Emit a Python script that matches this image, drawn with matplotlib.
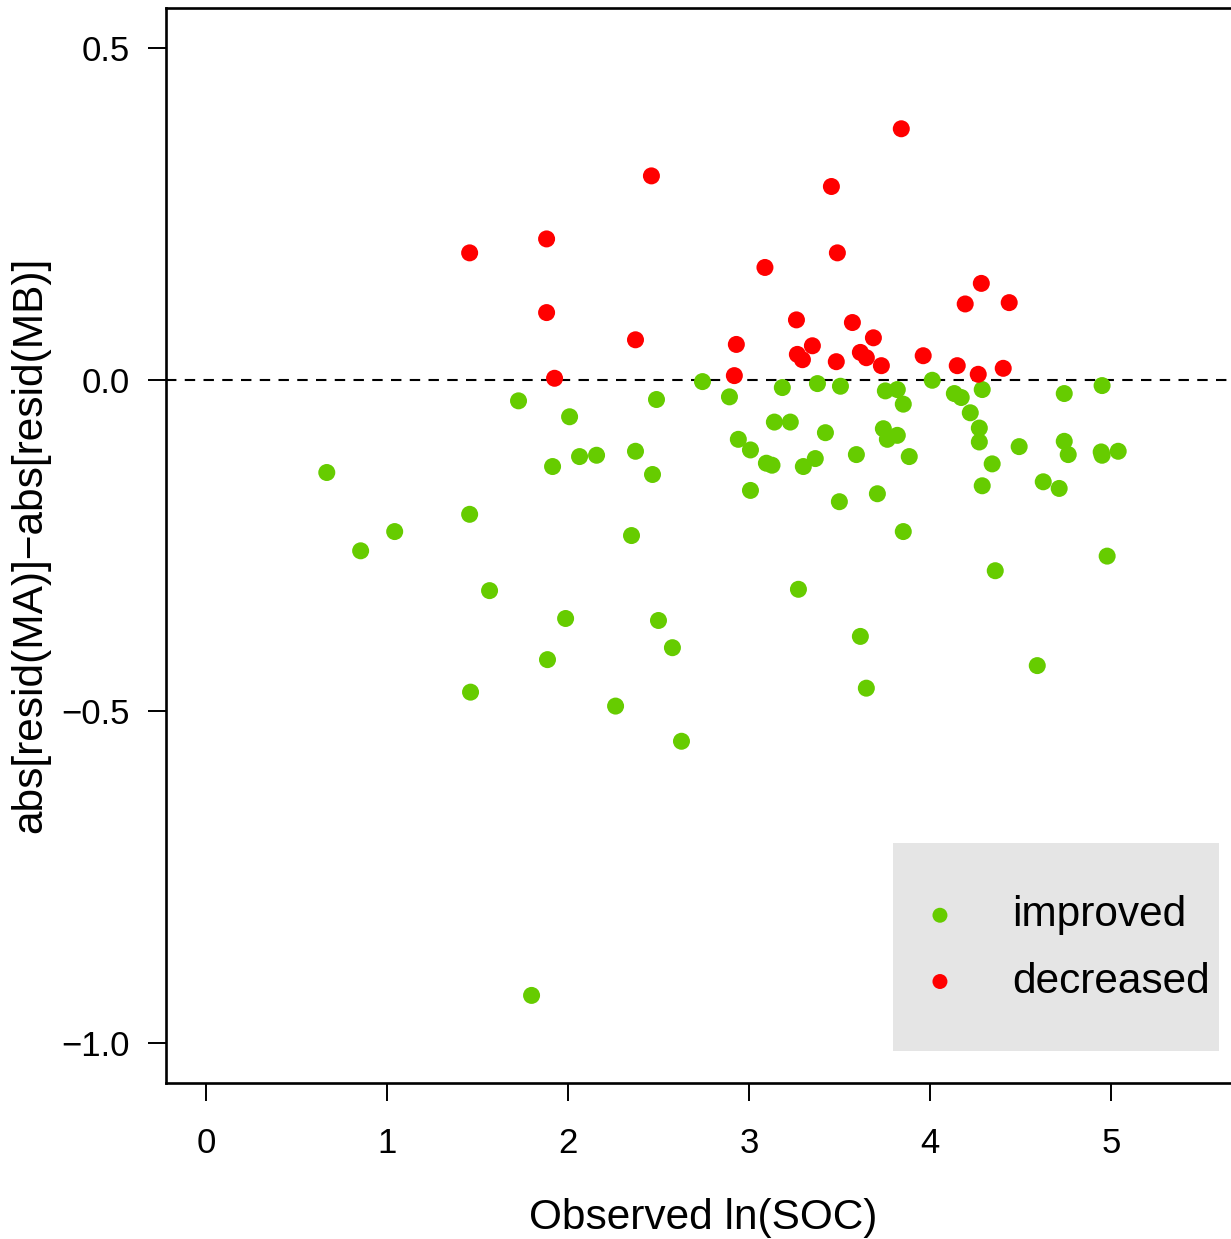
import matplotlib
matplotlib.use("Agg")
import matplotlib.pyplot as plt
from matplotlib.patches import Rectangle

plt.rcParams['font.family'] = ['Liberation Sans', 'DejaVu Sans']

# Observed ln(SOC) and residual-difference values for sites where the model improved
improved_x = [0.668, 0.855, 1.043, 1.457, 1.462, 1.567, 1.727, 1.799, 1.887, 1.915,
              1.987, 2.009, 2.064, 2.158, 2.263, 2.351, 2.373, 2.467, 2.489, 2.500,
              2.577, 2.627, 2.743, 2.892, 2.941, 3.008, 3.008, 3.096, 3.127, 3.140,
              3.184, 3.228, 3.273, 3.300, 3.366, 3.378, 3.422, 3.499, 3.505, 3.593,
              3.615, 3.648, 3.709, 3.742, 3.753, 3.764, 3.819, 3.819, 3.852, 3.852,
              3.885, 4.012, 4.134, 4.172, 4.222, 4.272, 4.272, 4.288, 4.288, 4.343,
              4.360, 4.492, 4.592, 4.625, 4.713, 4.741, 4.741, 4.763, 4.945, 4.950,
              4.950, 4.978, 5.039]
improved_y = [-0.140, -0.258, -0.229, -0.203, -0.471, -0.318, -0.032, -0.928, -0.422, -0.131,
              -0.360, -0.056, -0.116, -0.114, -0.492, -0.235, -0.108, -0.143, -0.030, -0.363,
              -0.404, -0.545, -0.003, -0.026, -0.090, -0.106, -0.167, -0.126, -0.129, -0.064,
              -0.012, -0.064, -0.316, -0.131, -0.119, -0.006, -0.080, -0.184, -0.010, -0.113,
              -0.387, -0.465, -0.172, -0.074, -0.017, -0.090, -0.084, -0.015, -0.037, -0.229,
              -0.116, -0.001, -0.021, -0.027, -0.050, -0.073, -0.094, -0.015, -0.160, -0.127,
              -0.288, -0.101, -0.431, -0.154, -0.164, -0.021, -0.093, -0.113, -0.109, -0.114,
              -0.009, -0.266, -0.108]

# Sites where the model got worse
decreased_x = [1.457, 1.882, 1.882, 1.926, 2.373, 2.461, 2.919, 2.930, 3.088, 3.262,
               3.267, 3.295, 3.350, 3.455, 3.482, 3.488, 3.571, 3.615, 3.648, 3.687,
               3.731, 3.841, 3.962, 4.150, 4.194, 4.266, 4.283, 4.404, 4.437]
decreased_y = [0.191, 0.212, 0.101, 0.002, 0.060, 0.307, 0.006, 0.053, 0.169, 0.090,
               0.038, 0.030, 0.051, 0.291, 0.027, 0.191, 0.086, 0.041, 0.033, 0.063,
               0.021, 0.378, 0.036, 0.021, 0.114, 0.008, 0.145, 0.017, 0.116]

group_labels = ["improved", "decreased"]
group_colors = ["#66CC00", "#FF0000"]

x_ticks = [0, 1, 2, 3, 4, 5]
y_ticks = [-1.0, -0.5, 0.0, 0.5]
y_tick_labels = ["\u22121.0", "\u22120.5", "0.0", "0.5"]

W, H = 1231, 1239
fig = plt.figure(figsize=(W / 100, H / 100), dpi=100)
left_px, right_px, top_px, bottom_px = 166, 1241.5, 8, 1083
ax = fig.add_axes([left_px / W, 1 - bottom_px / H,
                   (right_px - left_px) / W, (bottom_px - top_px) / H])

ax.set_xlim(-0.22, 5.72)
ax.set_ylim(-1.06, 0.56)

ax.axhline(0, color="black", lw=1.5, ls=(0, (5, 4)), zorder=1)

ms = 150
ax.scatter(improved_x, improved_y, s=ms, color=group_colors[0], edgecolors="none",
           label=group_labels[0], zorder=2)
ax.scatter(decreased_x, decreased_y, s=ms, color=group_colors[1], edgecolors="none",
           label=group_labels[1], zorder=3)

for sp in ax.spines.values():
    sp.set_linewidth(1.9)

ax.set_xticks(x_ticks)
ax.set_xticklabels([str(t) for t in x_ticks])
ax.set_yticks(y_ticks)
ax.set_yticklabels(y_tick_labels)
ax.tick_params(axis="both", direction="out", length=13, width=1.4, labelsize=25)
ax.tick_params(axis="x", pad=19)
ax.tick_params(axis="y", pad=13)

ax.set_xlabel("Observed ln(SOC)", fontsize=30.5)
ax.set_ylabel("abs[resid(MA)]\u2212abs[resid(MB)]", fontsize=30.5)
ax.xaxis.set_label_coords((703 - left_px) / (right_px - left_px), -0.107)
ax.yaxis.set_label_coords(-0.108, (bottom_px - 545) / (bottom_px - top_px))

# Legend background panel
axw = right_px - left_px
axh = bottom_px - top_px
ax.add_patch(Rectangle(((893 - left_px) / axw, (bottom_px - 1051) / axh),
                       (1219 - 893) / axw, (1051 - 843) / axh,
                       transform=ax.transAxes, facecolor="#E5E5E5",
                       edgecolor="none", zorder=4))
leg = ax.legend(loc="center left", frameon=False, fontsize=30.5,
                bbox_to_anchor=((917.5 - left_px) / axw, (bottom_px - 948.5) / axh),
                borderaxespad=0, borderpad=0, handlelength=1.06,
                handletextpad=1.18, labelspacing=0.62, markerscale=0.88)
leg.set_zorder(5)

fig.savefig("out.png", dpi=100)
